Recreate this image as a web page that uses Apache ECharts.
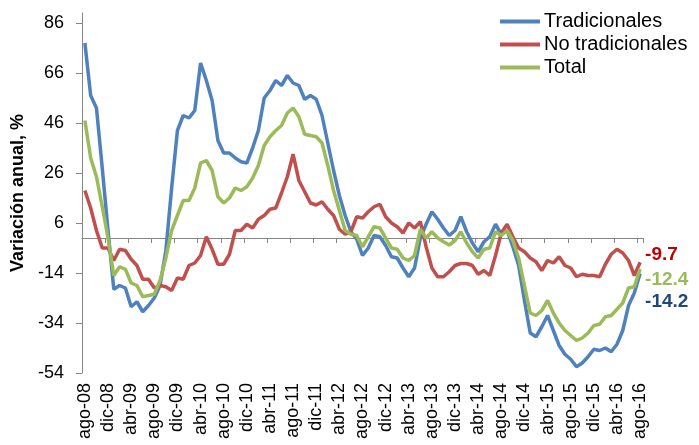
<!DOCTYPE html>
<html>
<head>
<meta charset="utf-8">
<script src="https://cdn.jsdelivr.net/npm/echarts@6/dist/echarts.min.js"></script>
<style>
	html, body { margin: 0; padding: 0; background: #fff; }
	#chart { width: 699px; height: 445px; }
</style>
</head>
<body>
<div id="chart"></div>
<script>
// months ago-08 .. ago-16
const monthNames = ['ene', 'feb', 'mar', 'abr', 'may', 'jun', 'jul', 'ago', 'sep', 'oct', 'nov', 'dic']
const yearLabels = ['08', '09', '10', '11', '12', '13', '14', '15', '16']
const yTicks = [-54, -34, -14, 6, 26, 46, 66, 86]

const tradicionales = [
	78, 57, 52, 28, 3, -20.5, -19, -20, -27.5, -25.5,
	-29.5, -27, -24, -19, -5, 20, 43, 49, 48, 51,
	70, 63, 55, 39, 34, 34, 32, 30.5, 30, 36,
	43, 56, 59, 63, 61, 65, 62, 61, 55.5, 57,
	55.5, 49, 38, 27, 17, 9, 2.5, -0.5, -7, -4,
	1, 0.5, -3, -7.5, -8, -12, -15.5, -12, 0, 5.5,
	10.5, 7.5, 4, 1, 3, 8.5, 2.5, -2, -5.5, -1.5,
	0.5, 5.5, 1.5, 3, -3.5, -11, -25, -38, -39.5, -35.5,
	-31, -37, -43, -46.5, -48.5, -51.5, -50, -47.5, -44.5, -45,
	-44, -45.5, -42.5, -37, -27, -22, -14.2
]

const noTradicionales = [
	19, 12, 3, -4, -4, -9, -4.5, -5, -8.5, -11,
	-16.5, -16.5, -20, -19, -19.5, -21, -16, -16.5, -11, -10,
	-7, 0.5, -4.5, -10.5, -10.5, -6.5, 3, 3, 5.5, 4,
	7.5, 9, 11.5, 12, 18, 24.5, 33.5, 23, 18.5, 14,
	13.2, 14.5, 11.5, 9, 3.5, 1.5, 2.5, 8.5, 8, 10.5,
	12.5, 13.5, 8.5, 6, 4.5, 2, 6, 4, 6.5, -3.5,
	-12, -15.5, -15.5, -13.5, -11, -10.2, -10.2, -11, -14.5, -13,
	-15, -7, 2, 5.5, 0.5, -4, -5.5, -8, -9.5, -13,
	-9, -10, -7.5, -11, -12, -15.5, -14.5, -15, -15, -15.5,
	-10.5, -6.5, -4.5, -6, -9, -15, -9.7
]

const total = [
	47, 32, 24.5, 12.5, 0, -15, -11.5, -12.5, -18, -19,
	-23.5, -23, -22.5, -17, -8, 3, 9, 15, 15, 20,
	30, 31, 27, 16.5, 14, 16, 20, 19, 20.5, 24,
	29, 37, 40.5, 43, 45, 50, 52, 48.5, 41.5, 41,
	40.5, 38, 29, 19, 11, 3, 1.5, 1, -3.5, 0.5,
	4.5, 4, 0, -4, -4.5, -8, -9, -7, 3.5, 0,
	2.5, 0, -1.5, -2.8, -1, 2.5, -2, -5.5, -8, -4.5,
	-4, 2.5, 1, 3, -1, -8, -19, -30, -31, -29,
	-25, -30, -34, -37, -39, -41, -40, -38, -35, -34.5,
	-31.5, -31, -28.5, -26, -20, -19.5, -12.4
]

const categories = []
for (let y = 0; y < yearLabels.length; y++) {
	for (let m = 0; m < 12; m++) {
		if ((y === 0 && m < 7) || (y === yearLabels.length - 1 && m > 7)) continue
		categories.push(monthNames[m] + '-' + yearLabels[y])
	}
}

const font = "'Liberation Sans', Arial, sans-serif"
const axisGrey = '#868686'

const chart = echarts.init(document.getElementById('chart'))

const makeSeries = (name, data, color, labelColor, dy) => ({
	name: name,
	type: 'line',
	data: data,
	xAxisIndex: 0,
	showSymbol: false,
	symbol: 'none',
	lineStyle: { width: 3.5, color: color },
	itemStyle: { color: color },
	endLabel: {
		show: true,
		formatter: (p) => String(p.value),
		color: labelColor,
		fontFamily: font,
		fontWeight: 'bold',
		fontSize: 19,
		distance: 5,
		offset: [0, dy],
	},
})

chart.setOption({
	animation: false,
	textStyle: { fontFamily: font },
	grid: {
		left: 82,
		right: 56,
		top: 13,
		bottom: 72,
	},
	legend: {
		orient: 'vertical',
		left: 495,
		top: 5,
		icon: 'rect',
		itemWidth: 40,
		itemHeight: 4,
		itemGap: 0,
		textStyle: {
			fontFamily: font,
			fontSize: 20,
			color: '#000',
			lineHeight: 23,
			padding: [0, 0, 0, -1],
		},
		data: ['Tradicionales', 'No tradicionales', 'Total'],
	},
	xAxis: [
		{
			type: 'category',
			data: categories,
			position: 'bottom',
			axisLine: { show: false, onZero: false },
			axisTick: { show: false },
			axisLabel: {
				interval: 3,
				rotate: 90,
				margin: 10,
				fontSize: 18,
				color: '#000',
				fontFamily: font,
			},
		},
		{
			type: 'category',
			data: categories,
			position: 'bottom',
			axisLine: { show: true, onZero: true, lineStyle: { color: axisGrey, width: 1 } },
			axisTick: { show: true, interval: 3, length: 5, lineStyle: { color: axisGrey } },
			axisLabel: { show: false },
		},
	],
	yAxis: {
		type: 'value',
		min: -54,
		max: 90,
		name: 'Variación anual, %',
		nameLocation: 'middle',
		nameGap: 49,
		nameTextStyle: {
			fontFamily: font,
			fontSize: 18,
			fontWeight: 'bold',
			color: '#000',
		},
		splitLine: { show: false },
		axisLine: { show: true, lineStyle: { color: axisGrey } },
		axisTick: { show: true, length: 6, customValues: yTicks, lineStyle: { color: axisGrey } },
		axisLabel: {
			customValues: yTicks,
			margin: 18,
			fontSize: 18,
			color: '#000',
			fontFamily: font,
		},
	},
	series: [
		makeSeries('Tradicionales', tradicionales, '#4F81BD', '#1F497D', 28),
		makeSeries('No tradicionales', noTradicionales, '#C0504D', '#C00000', -7),
		makeSeries('Total', total, '#9BBB59', '#9BBB59', 11),
	],
})
</script>
</body>
</html>
